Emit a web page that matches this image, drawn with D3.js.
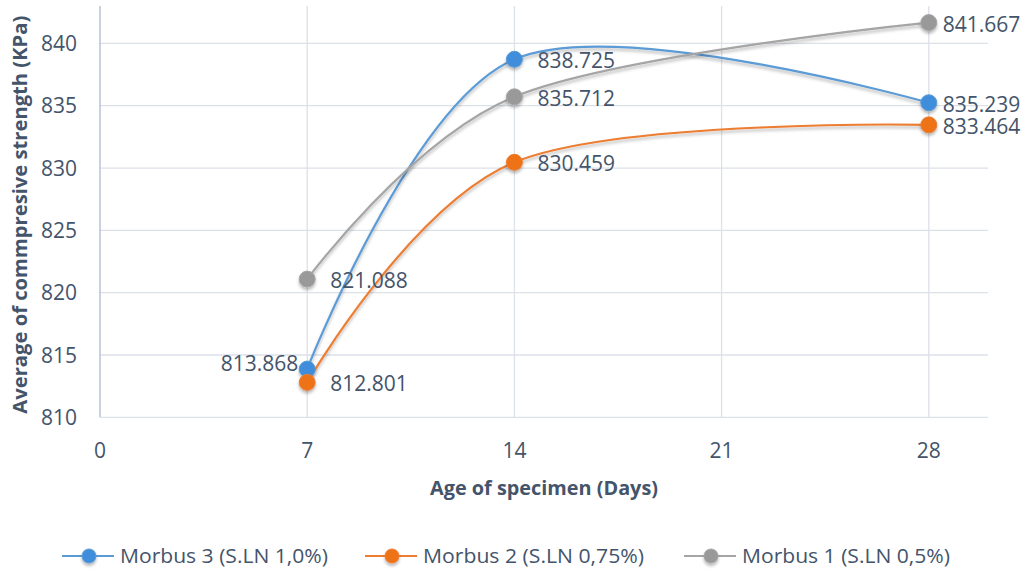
<!DOCTYPE html>
<html>
<head>
<meta charset="utf-8">
<script src="https://cdn.jsdelivr.net/npm/d3@7"></script>
<style>
  html, body { margin: 0; padding: 0; background: #fff; }
  svg { display: block; font-family: "Open Sans", "Noto Sans", sans-serif; }
</style>
</head>
<body>
<svg id="chart" width="1026" height="569"></svg>
<script>
// Age of specimen (days) at which each mix was tested
const days = [7, 14, 28];

// Average compressive strength (KPa) per mix
const morbus3 = [813.868, 838.725, 835.239];
const morbus2 = [812.801, 830.459, 833.464];
const morbus1 = [821.088, 835.712, 841.667];

const seriesNames = ["Morbus 3 (S.LN 1,0%)", "Morbus 2 (S.LN 0,75%)", "Morbus 1 (S.LN 0,5%)"];
const seriesColors = ["#5B9BD5", "#ED7D31", "#A5A5A5"];
const markerColors = ["#3F8EDB", "#EE7219", "#999999"];

const xTicks = [0, 7, 14, 21, 28];
const yTicks = [810, 815, 820, 825, 830, 835, 840];

// label side per point: +1 right of the marker, -1 left of it
const labelSide = [[-1, 1, 1], [1, 1, 1], [1, 1, 1]];

const series = [morbus3, morbus2, morbus1].map((vals, i) => ({
  name: seriesNames[i],
  color: seriesColors[i],
  marker: markerColors[i],
  points: vals.map((v, j) => ({ x: days[j], y: v, side: labelSide[i][j] }))
}));

const svg = d3.select("#chart");
const textColor = "#44546A";
const gridColor = "#DCE1E8";

const x = d3.scaleLinear().domain([0, 30]).range([100, 988]);
const y = d3.scaleLinear().domain([810, 843]).range([417.3, 6]);

// soft shadow under lines and markers
const defs = svg.append("defs");
const f = defs.append("filter").attr("id", "shadow")
  .attr("x", "-20%").attr("y", "-20%").attr("width", "140%").attr("height", "160%");
f.append("feDropShadow").attr("dx", 0).attr("dy", 2.5).attr("stdDeviation", 1.8)
  .attr("flood-color", "#000").attr("flood-opacity", 0.28);

// horizontal gridlines
svg.append("g").selectAll("line").data(yTicks).join("line")
  .attr("x1", x(0)).attr("x2", x(30))
  .attr("y1", d => y(d)).attr("y2", d => y(d))
  .attr("stroke", gridColor).attr("stroke-width", 1.3);

// vertical gridlines
svg.append("g").selectAll("line").data(xTicks.filter(d => d > 0)).join("line")
  .attr("x1", d => x(d)).attr("x2", d => x(d))
  .attr("y1", y(843)).attr("y2", y(810))
  .attr("stroke", gridColor).attr("stroke-width", 1.3);

// left axis line
svg.append("line")
  .attr("x1", x(0)).attr("x2", x(0)).attr("y1", y(843)).attr("y2", y(810))
  .attr("stroke", "#B7C3D4").attr("stroke-width", 1.5);

// y tick labels
svg.append("g").selectAll("text").data(yTicks).join("text")
  .attr("x", 77).attr("y", d => y(d)).attr("dy", "0.36em")
  .attr("text-anchor", "end").attr("font-size", 21).attr("fill", textColor)
  .text(d => d);

// x tick labels
svg.append("g").selectAll("text").data(xTicks).join("text")
  .attr("x", d => x(d)).attr("y", 450).attr("dy", "0.36em")
  .attr("text-anchor", "middle").attr("font-size", 21).attr("fill", textColor)
  .text(d => d);

// axis titles
svg.append("text")
  .attr("transform", `translate(20,${(y(843) + y(810)) / 2 + 3}) rotate(-90)`)
  .attr("dy", "0.36em").attr("text-anchor", "middle")
  .attr("font-size", 19).attr("font-weight", "bold").attr("fill", textColor)
  .attr("textLength", 398).attr("lengthAdjust", "spacingAndGlyphs")
  .text("Average of commpresive strength (KPa)");

svg.append("text")
  .attr("x", 544).attr("y", 488).attr("dy", "0.36em").attr("text-anchor", "middle")
  .attr("font-size", 19).attr("font-weight", "bold").attr("fill", textColor)
  .attr("textLength", 228).attr("lengthAdjust", "spacingAndGlyphs")
  .text("Age of specimen (Days)");

// smoothed series lines
const line = d3.line().x(d => x(d.x)).y(d => y(d.y)).curve(d3.curveCardinal.tension(0));

const g = svg.append("g");
series.forEach(s => {
  g.append("path").datum(s.points)
    .attr("d", line).attr("fill", "none")
    .attr("stroke", s.color).attr("stroke-width", 2.2)
    .attr("filter", "url(#shadow)");
});
series.forEach(s => {
  g.append("g").selectAll("circle").data(s.points).join("circle")
    .attr("cx", d => x(d.x)).attr("cy", d => y(d.y)).attr("r", 8)
    .attr("fill", s.marker).attr("stroke", s.color).attr("stroke-width", 1)
    .attr("filter", "url(#shadow)");
});

// value labels; the last column sits closer to its markers near the plot edge
const lastDay = d3.max(days);
series.forEach(s => {
  g.append("g").selectAll("text").data(s.points).join("text")
    .attr("x", d => d.side < 0 ? x(d.x) - 9 : x(d.x) + (d.x === lastDay ? 14 : 23))
    .attr("y", d => y(d.y) + (d.side < 0 ? -6 : 1.5))
    .attr("dy", "0.36em")
    .attr("text-anchor", d => d.side < 0 ? "end" : "start")
    .attr("font-size", 21).attr("fill", textColor)
    .text(d => d3.format(".3f")(d.y));
});

// legend
const legendX = [62, 365, 684];
const legend = svg.append("g");
series.forEach((s, i) => {
  const lg = legend.append("g").attr("transform", `translate(${legendX[i]},556)`);
  lg.append("line").attr("x1", 0).attr("x2", 52).attr("y1", 0).attr("y2", 0)
    .attr("stroke", s.color).attr("stroke-width", 2.2);
  lg.append("circle").attr("cx", 27).attr("cy", 0).attr("r", 7)
    .attr("fill", s.marker).attr("stroke", s.color).attr("stroke-width", 1)
    .attr("filter", "url(#shadow)");
  lg.append("text").attr("x", 58).attr("y", 0).attr("dy", "0.36em")
    .attr("font-size", 19.5).attr("fill", textColor)
    .attr("textLength", [208, 221, 208][i]).attr("lengthAdjust", "spacingAndGlyphs")
    .text(s.name);
});
</script>
</body>
</html>
